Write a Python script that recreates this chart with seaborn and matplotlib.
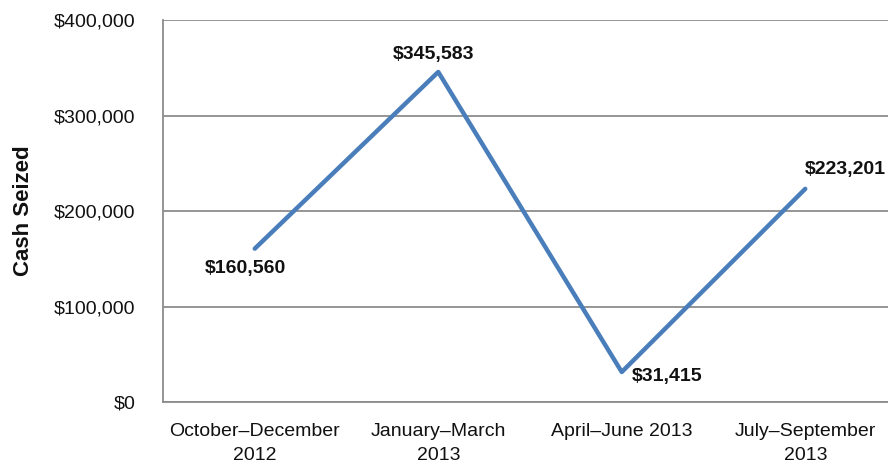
import matplotlib
matplotlib.use("Agg")
import matplotlib.pyplot as plt
import seaborn as sns
import pandas as pd
from matplotlib.ticker import FuncFormatter, FixedLocator

periods = ["October\u2013December\n2012", "January\u2013March\n2013", "April\u2013June 2013", "July\u2013September\n2013"]
cash = [160560, 345583, 31415, 223201]
label_text = ["$160,560", "$345,583", "$31,415", "$223,201"]

sns.set_theme(style="white")
plt.rcParams['font.family'] = ['Liberation Sans', 'DejaVu Sans']

df = pd.DataFrame({"period": periods, "cash": cash})

fig = plt.figure(figsize=(8.88, 4.70), dpi=100)
ax = fig.add_axes([163/888, 68/470, 734/888, 382/470])

grey = "#8c8c8c"
sns.lineplot(data=df, x="period", y="cash", ax=ax, color="#4a7ebb", linewidth=3.2, sort=False, zorder=3)

ax.set_xlim(-0.5, 3.5)
ax.set_ylim(0, 400000)
ax.yaxis.set_major_locator(FixedLocator([0, 100000, 200000, 300000, 400000]))
ax.yaxis.set_major_formatter(FuncFormatter(lambda v, p: f"${int(v):,}"))
ax.grid(axis="y", color=grey, linewidth=1.3)
ax.set_axisbelow(True)

for s in ["top", "right"]:
    ax.spines[s].set_visible(False)
for s in ["left", "bottom"]:
    ax.spines[s].set_color(grey)
    ax.spines[s].set_linewidth(1.3)

ax.set_xticks(range(len(periods)))
ax.set_xticklabels(periods, fontsize=14, linespacing=1.55)
ax.set_xticks([0.5, 1.5, 2.5], minor=True)
ax.tick_params(axis="x", which="major", length=0, pad=15)
ax.tick_params(axis="x", which="minor", length=6, width=1.3, color=grey, direction="out")
ax.tick_params(axis="y", length=7, width=1.3, color=grey, direction="out", labelsize=14, pad=13)
for lab in ax.get_xticklabels() + ax.get_yticklabels():
    lab.set_color("#111111")

ax.set_xlabel("")
ax.set_ylabel("Cash Seized", fontsize=16, fontweight="bold", color="#111111")
ax.yaxis.set_label_coords((34 - 163) / 734, 0.5)

offsets = [(-9, -20), (-5, 17), (45, -5), (40, 19)]
for i, (v, t) in enumerate(zip(cash, label_text)):
    ax.annotate(t, xy=(i, v), xytext=offsets[i], textcoords="offset pixels",
                ha="center", va="center", fontsize=14, fontweight="bold", color="#111111",
                annotation_clip=False)

fig.savefig("out.png", dpi=100)
